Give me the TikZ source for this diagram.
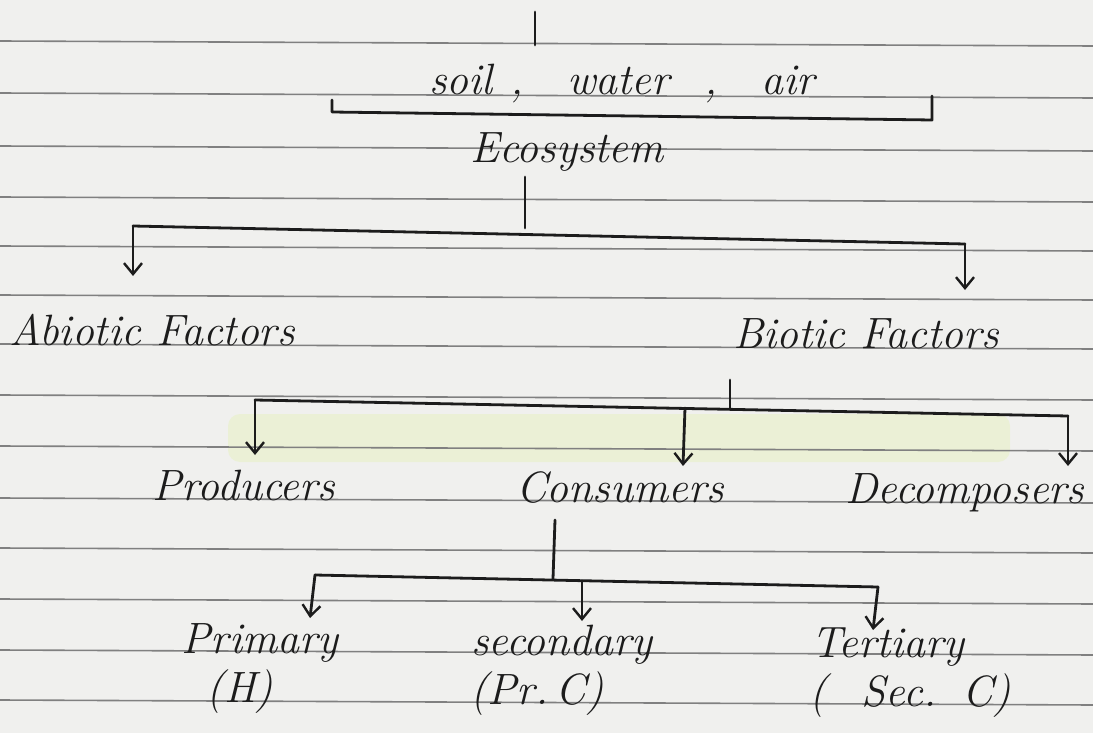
\documentclass[tikz,border=0pt]{standalone}
\usetikzlibrary{arrows.meta}
\definecolor{paper}{RGB}{240,240,238}
\definecolor{rule}{RGB}{128,128,128}
\definecolor{ink}{RGB}{28,28,28}
\definecolor{hilite}{RGB}{226,240,170}
\tikzset{
  hand/.style={font=\fontsize{44}{46}\selectfont\itshape, text=ink, inner sep=0pt, anchor=base},
  wire/.style={draw=ink, line width=2.8bp, line cap=round, line join=round},
  drop/.style={wire, -{Straight Barb[length=11bp,width=18bp,line width=2.4bp]}},
  ruling/.style={draw=rule, line width=1.6bp},
}
\begin{document}
\begin{tikzpicture}[x=1bp,y=-1bp]
  % page
  \fill[paper] (0,0) rectangle (1093,733);
  \useasboundingbox (0,0) rectangle (1093,733);
  % faint highlighter band
  \fill[hilite, opacity=0.35, rounded corners=12bp] (228,414) rectangle (1010,462);
  % ruled lines (slightly tilted)
  \foreach \yy in {41,93,146,197,246,295,344,395,446,498,548,599,650,700}
    \draw[ruling] (0,\yy) -- (1093,\yy+5);

  % texts
  \node[hand] (swa)  at (622,95)  {soil\hspace{.4em},\hspace{1.0em}water\hspace{.8em},\hspace{1.0em}air};
  \node[hand] (eco)  at (567,163) {Ecosystem};
  \node[hand] (abio) at (152,345) {Abiotic Factors};
  \node[hand] (bio)  at (866,348) {Biotic Factors};
  \node[hand] (prod) at (244,500) {Producers};
  \node[hand] (cons) at (620,502) {Consumers};
  \node[hand] (deco) at (965,503) {Decomposers};
  \node[hand] (prim) at (260,653) {Primary};
  \node[hand] (ph)   at (240,702) {(H)};
  \node[hand] (sec)  at (562,655) {secondary};
  \node[hand] (pc)   at (537,704) {(Pr.\,C)};
  \node[hand] (ter)  at (888,657) {Tertiary};
  \node[hand] (sc)   at (910,706) {(\hspace{.8em}Sec.\hspace{.6em}C)};

  % top stub and bracket
  \coordinate (t1) at (535,12);
  \coordinate (t2) at (535,45);
  \draw[wire] (t1) -- (t2);
  \coordinate (bl1) at (332,100);
  \coordinate (bl2) at (332,112);
  \coordinate (br2) at (932,120);
  \coordinate (br1) at (932,96);
  \draw[wire] (bl1) -- (bl2) -- (br2) -- (br1);

  % Ecosystem -> factors
  \coordinate (e1) at (525,177);
  \coordinate (e2) at (525,228);
  \draw[wire] (e1) -- (e2);
  \coordinate (aL) at (133,226);
  \coordinate (aR) at (965,244);
  \draw[wire] (aL) -- (aR);
  \draw[drop] (aL) -- ++(0,50);
  \draw[drop] (aR) -- ++(0,46);

  % Biotic factors -> three groups
  \coordinate (b1) at (730,380);
  \coordinate (b2) at (730,409);
  \draw[wire] (b1) -- (b2);
  \coordinate (pL) at (255,400);
  \coordinate (pM) at (685,408);
  \coordinate (pR) at (1068,416);
  \draw[wire] (pL) -- (pR);
  \draw[drop] (pL) -- ++(0,55);
  \draw[drop] (pM) -- ++(-2,58);
  \draw[drop] (pR) -- ++(0,50);

  % Consumers -> orders
  \coordinate (c1) at (555,520);
  \coordinate (c2) at (553,579);
  \draw[wire] (c1) -- (c2);
  \coordinate (qL) at (315,575);
  \coordinate (qM) at (582,581);
  \coordinate (qR) at (878,587);
  \draw[wire] (qL) -- (qR);
  \draw[drop] (qL) -- ++(-5,43);
  \draw[drop] (qM) -- ++(0,40);
  \draw[drop] (qR) -- ++(-5,43);
\end{tikzpicture}
\end{document}
